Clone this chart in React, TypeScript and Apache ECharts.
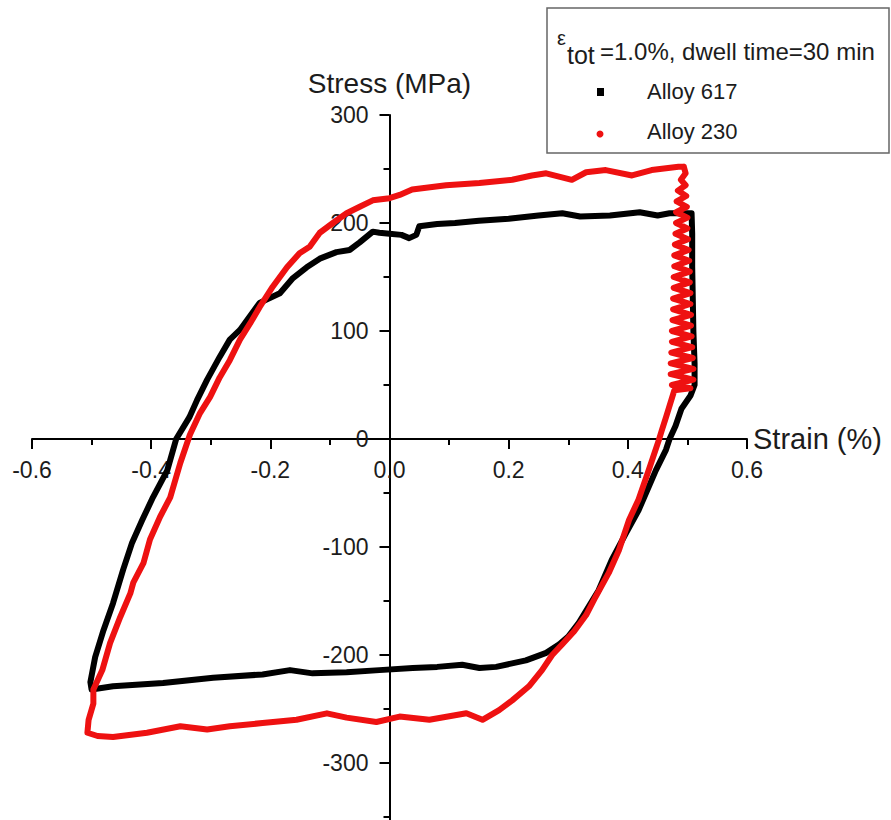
import React, { useEffect, useRef } from "react";
import * as echarts from "echarts";

// ---- Data ----
const alloy617Strain = [
  0.507, 0.508, 0.508, 0.509, 0.51, 0.512, 0.512, 0.505, 0.49, 0.48, 0.47, 0.464, 0.447, 0.418, 0.397, 0.373,
  0.351, 0.318, 0.3, 0.285, 0.263, 0.229, 0.179, 0.151, 0.122, 0.08, 0.039, -0.017, -0.072, -0.129, -0.167,
  -0.213, -0.296, -0.38, -0.464, -0.5, -0.502, -0.494, -0.48, -0.464, -0.447, -0.432, -0.415, -0.397, -0.373,
  -0.358, -0.336, -0.323, -0.306, -0.285, -0.268, -0.251, -0.218, -0.184, -0.162, -0.139, -0.117, -0.089,
  -0.067, -0.05, -0.028, -0.017, 0.0, 0.02, 0.033, 0.045, 0.05, 0.08, 0.11, 0.15, 0.2, 0.25, 0.29, 0.32,
  0.37, 0.42, 0.45, 0.47, 0.507,
];
const alloy617Stress = [
  209, 190, 160, 130, 100, 70, 50, 40, 28, 12, 0, -10, -29, -66, -87, -112,
  -140, -170, -183, -190, -198, -205, -211, -212, -209, -211, -212, -214, -216, -217, -214,
  -218, -221, -226, -229, -232, -225, -202, -177, -152, -121, -96, -75, -54, -29,
  0, 20, 36, 55, 76, 92, 101, 126, 135, 149, 159, 167, 173,
  175, 182, 192, 191, 190, 189, 186, 189, 197, 199, 200, 202, 204, 207, 209, 206,
  207, 210, 207, 209, 209,
];

const alloy230Strain = [
  // stress relaxation at peak strain (dense scatter band)
  0.494, 0.497, 0.489, 0.497, 0.484, 0.498, 0.482, 0.499, 0.481, 0.5, 0.481, 0.5, 0.48, 0.501, 0.479, 0.502,
  0.478, 0.503, 0.478, 0.504, 0.477, 0.504, 0.477, 0.505, 0.476, 0.505, 0.476, 0.506, 0.475, 0.506, 0.474,
  0.507, 0.474, 0.508, 0.473, 0.509, 0.472, 0.51, 0.472, 0.51, 0.474, 0.505, 0.478,
  // unloading branch
  0.464, 0.457, 0.452, 0.435, 0.418, 0.402, 0.385, 0.368, 0.346, 0.33, 0.31, 0.29, 0.273, 0.256,
  0.234, 0.206, 0.184, 0.156, 0.129, 0.067, 0.017, -0.022, -0.072, -0.105, -0.156, -0.213, -0.268, -0.306,
  -0.351, -0.407, -0.464, -0.49, -0.507,
  // reloading branch
  -0.505, -0.497, -0.497, -0.482, -0.469, -0.452, -0.435, -0.43,
  -0.413, -0.402, -0.385, -0.368, -0.351, -0.335, -0.318, -0.301, -0.285, -0.268, -0.251, -0.234, -0.218,
  -0.196, -0.172, -0.151, -0.134, -0.117, -0.095, -0.072, -0.05, -0.028, 0.0, 0.017, 0.038, 0.095, 0.151,
  0.206, 0.239, 0.263, 0.306, 0.33, 0.363, 0.407, 0.44, 0.485, 0.494,
];
const alloy230Stress = [
  252, 246, 240, 235, 230, 225, 220, 215, 210, 205, 200, 195, 190, 185, 180, 175,
  170, 165, 160, 155, 150, 145, 140, 135, 130, 125, 120, 115, 110, 105, 100,
  95, 90, 85, 80, 75, 70, 65, 60, 55, 50, 47, 45,
  20, 8, -1, -29, -56, -75, -103, -124, -146, -163, -178, -190, -200, -214,
  -229, -242, -251, -260, -254, -260, -257, -262, -258, -254, -260, -263, -266, -269,
  -266, -272, -276, -275, -272,
  -260, -245, -232, -214, -189, -165, -143, -133,
  -115, -93, -72, -54, -22, 4, 24, 39, 57, 73, 92, 107, 122,
  141, 159, 172, 178, 191, 200, 209, 215, 221, 223, 226, 231, 235, 237,
  240, 244, 246, 240, 247, 249, 244, 249, 252, 252,
];

const seriesNames = ["Alloy 617", "Alloy 230"];
const legendTitleMain = "=1.0%, dwell time=30 min";
const xAxisName = "Strain (%)";
const yAxisName = "Stress (MPa)";

const FONT = "'Liberation Sans', Arial, Helvetica, sans-serif";
const TEXT = "#1c1c1c";

// grid geometry (pixels)
const GRID_LEFT = 32;
const GRID_RIGHT = 144;
const GRID_TOP = 115;
const GRID_BOTTOM = -51;
const W = 891;
const H = 820;

export default function App() {
  const ref = useRef<HTMLDivElement>(null);

  useEffect(() => {
    if (!ref.current) return;
    const chart = echarts.init(ref.current, undefined, { renderer: "svg" });
    const d617 = alloy617Strain.map((x, i) => [x, alloy617Stress[i]]);
    const d230 = alloy230Strain.map((x, i) => [x, alloy230Stress[i]]);

    const xMin = -0.6, xMax = 0.6, yMin = -400, yMax = 300;
    const gridW = W - GRID_LEFT - GRID_RIGHT;
    const gridH = H - GRID_TOP - GRID_BOTTOM;
    // offsets that put each axis through the other axis' zero
    const yAxisOffset = -((0 - xMin) / (xMax - xMin)) * gridW;
    const xAxisOffset = -((0 - yMin) / (yMax - yMin)) * gridH;

    chart.setOption({
      animation: false,
      backgroundColor: "#ffffff",
      textStyle: { fontFamily: FONT },
      grid: {
        left: GRID_LEFT, right: GRID_RIGHT, top: GRID_TOP, bottom: GRID_BOTTOM,
        containLabel: false, outerBoundsMode: "none",
      },
      xAxis: {
        type: "value",
        position: "bottom",
        offset: xAxisOffset,
        min: xMin,
        max: xMax,
        interval: 0.2,
        name: xAxisName,
        nameLocation: "end",
        nameGap: 6,
        nameTextStyle: { fontSize: 29, color: TEXT, fontFamily: FONT },
        axisLine: { onZero: false, lineStyle: { color: "#000", width: 2 } },
        axisTick: { show: true, length: 10, lineStyle: { color: "#000", width: 2 } },
        minorTick: { show: true, splitNumber: 2, length: 6, lineStyle: { color: "#000", width: 2 } },
        splitLine: { show: false },
        axisLabel: {
          margin: 19,
          fontSize: 23,
          color: TEXT,
          fontFamily: FONT,
          formatter: (v: number) => (Math.abs(v) < 1e-9 ? "0.0" : v.toFixed(1)),
        },
      },
      yAxis: {
        type: "value",
        position: "left",
        offset: yAxisOffset,
        min: yMin,
        max: yMax,
        interval: 100,
        name: yAxisName,
        nameLocation: "end",
        nameGap: 18,
        nameTextStyle: { fontSize: 28, color: TEXT, fontFamily: FONT },
        axisLine: { onZero: false, lineStyle: { color: "#000", width: 2 } },
        axisTick: { show: true, length: 10, lineStyle: { color: "#000", width: 2 } },
        minorTick: { show: true, splitNumber: 2, length: 6, lineStyle: { color: "#000", width: 2 } },
        splitLine: { show: false },
        axisLabel: {
          margin: 21,
          fontSize: 23,
          color: TEXT,
          fontFamily: FONT,
          formatter: (v: number) => (v < -350 ? "" : String(Math.round(v))),
        },
      },
      series: [
        {
          name: seriesNames[0],
          type: "line",
          data: d617,
          showSymbol: false,
          lineStyle: { color: "#000000", width: 6, join: "round", cap: "round" },
          itemStyle: { color: "#000000" },
          z: 2,
        },
        {
          name: seriesNames[1],
          type: "line",
          data: d230,
          showSymbol: false,
          lineStyle: { color: "#ee1111", width: 6, join: "round", cap: "round" },
          itemStyle: { color: "#ee1111" },
          z: 3,
        },
      ],
      graphic: [
        {
          type: "rect",
          shape: { x: 547, y: 8, width: 342, height: 145 },
          style: { fill: "#ffffff", stroke: "#666666", lineWidth: 1.5 },
          z: 10,
        },
        {
          type: "text",
          x: 557,
          y: 38,
          style: { text: "ε", fontSize: 20, fill: TEXT, fontFamily: FONT, verticalAlign: "middle" },
          z: 11,
        },
        {
          type: "text",
          x: 567,
          y: 55,
          style: { text: "tot", fontSize: 25, fill: TEXT, fontFamily: FONT, verticalAlign: "middle" },
          z: 11,
        },
        {
          type: "text",
          x: 600,
          y: 51,
          style: { text: legendTitleMain, fontSize: 24, fill: TEXT, fontFamily: FONT, verticalAlign: "middle" },
          z: 11,
        },
        {
          type: "rect",
          shape: { x: 597, y: 88, width: 7, height: 8 },
          style: { fill: "#000000" },
          z: 11,
        },
        {
          type: "text",
          x: 647,
          y: 91,
          style: { text: seriesNames[0], fontSize: 22, fill: TEXT, fontFamily: FONT, verticalAlign: "middle" },
          z: 11,
        },
        {
          type: "circle",
          shape: { cx: 600, cy: 134, r: 3.5 },
          style: { fill: "#ee1111" },
          z: 11,
        },
        {
          type: "text",
          x: 647,
          y: 131,
          style: { text: seriesNames[1], fontSize: 22, fill: TEXT, fontFamily: FONT, verticalAlign: "middle" },
          z: 11,
        },
      ],
    });

    return () => chart.dispose();
  }, []);

  return (
    <div
      ref={ref}
      style={{ position: "fixed", left: 0, top: 0, width: W, height: H, background: "#fff" }}
    />
  );
}
